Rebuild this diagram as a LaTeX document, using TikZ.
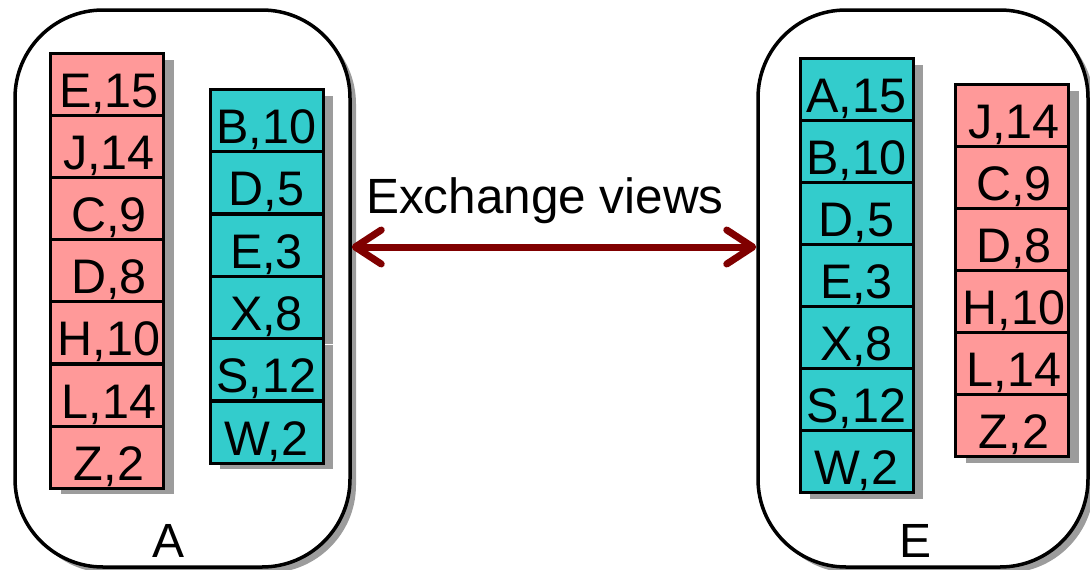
\documentclass[tikz,border=0pt]{standalone}
\usepackage{fontspec}
\setmainfont{Liberation Sans}
\usetikzlibrary{shadows,arrows.meta}
\definecolor{cellred}{HTML}{FF9999}
\definecolor{cellteal}{HTML}{33CCCC}
\definecolor{arrowred}{HTML}{800000}
\definecolor{shadowgray}{HTML}{9C9C9C}
\tikzset{
  cell/.style={draw=black, line width=3pt, minimum width=113pt, minimum height=62pt,
    inner sep=0pt, text height=50pt, text depth=4pt, font=\fontsize{48.5}{50}\selectfont,
    drop shadow={shadow xshift=10pt, shadow yshift=-6pt, fill=shadowgray, opacity=1}},
  redcell/.style={cell, fill=cellred},
  tealcell/.style={cell, fill=cellteal},
  container/.style={draw=black, line width=3.5pt, rounded corners=88pt, fill=white, inner sep=0pt,
    drop shadow={shadow xshift=6pt, shadow yshift=-6pt, fill=shadowgray, opacity=1}},
  boxlabel/.style={anchor=base, inner sep=0pt, font=\fontsize{48}{50}\selectfont},
  exch/.style={draw=arrowred, line width=7pt, line cap=round,
    {Straight Barb[length=26pt, width=34pt, round]}-{Straight Barb[length=26pt, width=34pt, round]}},
}
\begin{document}
\begin{tikzpicture}[x=1pt, y=-1pt]
\useasboundingbox (0,0) rectangle (1090,570);
\clip (0,0) rectangle (1090,570);
% containers
\node[container, minimum width=335pt, minimum height=557pt] (boxA) at (182.5,288.5) {};
\node[container, minimum width=330pt, minimum height=557pt] (boxE) at (923,288.5) {};
% node A columns
\foreach \t [count=\i] in {{E,15},{J,14},{C,9},{D,8},{H,10},{L,14},{Z,2}}
  \node[redcell, anchor=north] (ar\i) at (107, {52+62.1*(\i-1)}) {\hspace{4pt}\t};
\foreach \t [count=\i] in {{B,10},{D,5},{E,3},{X,8},{S,12},{W,2}}
  \node[tealcell, anchor=north] (at\i) at (266.5, {88+62.3*(\i-1)}) {\t};
% node E columns
\foreach \t [count=\i] in {{A,15},{B,10},{D,5},{E,3},{X,8},{S,12},{W,2}}
  \node[tealcell, anchor=north] (et\i) at (856.5, {57+62*(\i-1)}) {\t};
\foreach \t [count=\i] in {{J,14},{C,9},{D,8},{H,10},{L,14},{Z,2}}
  \node[redcell, anchor=north] (er\i) at (1012, {83+62*(\i-1)}) {\hspace{4pt}\t};
% labels
\node[boxlabel] (labA) at (169,557) {A};
\node[boxlabel] (labE) at (915,557) {E};
\node[boxlabel, font=\fontsize{49.5}{52}\selectfont] (exlabel) at (545,213) {Exchange views};
% arrow
\draw[exch] ([yshift=41.5pt]boxA.east) -- ([yshift=41.5pt]boxE.west);
\end{tikzpicture}
\end{document}
